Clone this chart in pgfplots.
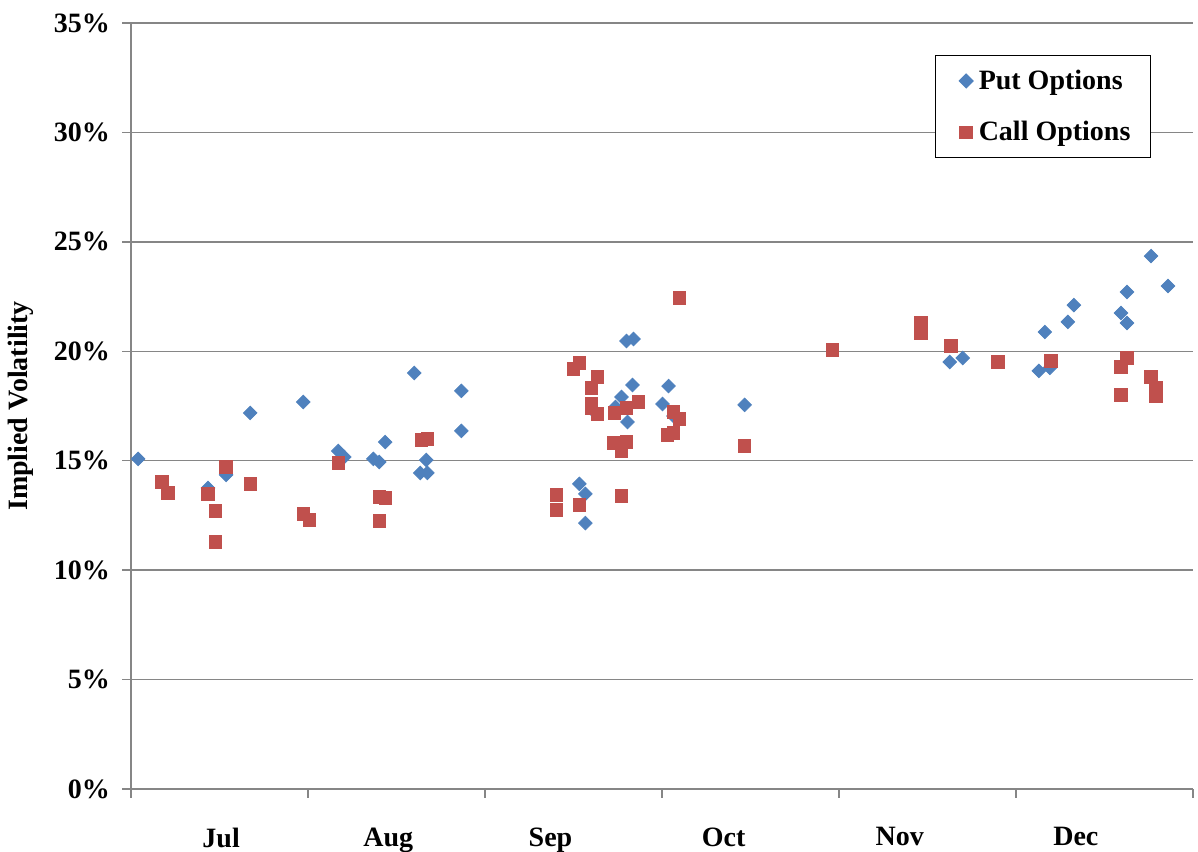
\documentclass[border=0pt]{standalone}
\usepackage{fontspec}
\setmainfont{Liberation Serif}
\usepackage{pgfplots}
\pgfplotsset{compat=1.18}
\definecolor{putblue}{HTML}{4F81BD}
\definecolor{callred}{HTML}{C0504D}
\definecolor{axgray}{HTML}{868686}
\begin{document}
\begin{tikzpicture}
\begin{axis}[
  width=531pt, height=383pt, scale only axis,
  xmin=0, xmax=6, ymin=0, ymax=35,
  axis x line*=bottom, axis y line*=left,
  axis line style={axgray, line width=0.9pt, -},
  every tick/.style={axgray, line width=0.7pt},
  tick align=outside, major tick length=4.5pt,
  ytick={0,5,...,35},
  yticklabels={0\%,5\%,10\%,15\%,20\%,25\%,30\%,35\%},
  yticklabel style={xshift=-2.5pt},
  ymajorgrids, grid style={axgray, line width=0.7pt},
  xtick={0,1,...,6}, xticklabels={},
  extra x ticks={0.509,1.453,2.370,3.348,4.343,5.338},
  extra x tick labels={Jul,Aug,Sep,Oct,Nov,Dec},
  extra x tick style={major tick length=0pt, grid=none,
    tick label style={yshift=-15.8pt}},
  tick label style={font=\fontsize{14}{16}\selectfont\bfseries, black},
  ylabel={Implied Volatility},
  ylabel style={at={(axis description cs:-0.104,0.5)}, anchor=center,
    font=\fontsize{14}{16}\selectfont\bfseries},
  legend style={at={(axis description cs:0.757,0.958)}, anchor=north west,
    draw=black, fill=white, line width=0.6pt,
    font=\fontsize{14}{16}\selectfont\bfseries,
    inner xsep=8pt, inner ysep=5pt, row sep=10.5pt},
  legend cell align=left,
  legend image code/.code={\path (0pt,0pt) (11pt,0pt);
    \draw[#1] plot coordinates {(7pt,0pt)};},
]
\addplot[only marks, mark=square*, mark size=2.4pt,
  mark options={rotate=45, fill=putblue, draw=putblue}]
coordinates {
(0.040,15.08) (0.435,13.75) (0.537,14.35) (0.673,17.18) (0.973,17.68)
(1.171,15.44) (1.205,15.17) (1.369,15.08) (1.402,14.94) (1.436,15.85)
(1.600,19.01) (1.634,14.44) (1.674,14.44) (1.668,15.03) (1.866,18.19)
(1.866,16.36) (2.533,13.94) (2.567,13.48) (2.567,12.15) (2.799,20.47)
(2.839,20.56) (2.833,18.46) (2.771,17.91) (2.737,17.45) (2.607,17.32)
(2.805,16.77) (3.037,18.41) (3.003,17.59) (3.065,17.04) (3.467,17.55)
(4.626,19.51) (4.699,19.69) (5.129,19.10) (5.191,19.24) (5.163,20.88)
(5.293,21.34) (5.327,22.11) (5.593,21.75) (5.627,21.29) (5.627,22.71)
(5.763,24.35) (5.859,22.98)
};
\addlegendentry{Put Options}
\addplot[only marks, mark=square*, mark size=3.1pt,
  mark options={fill=callred, draw=callred}]
coordinates {
(0.175,14.03) (0.209,13.52) (0.435,13.48) (0.475,12.70) (0.475,11.29)
(0.537,14.71) (0.673,13.94) (0.973,12.57) (1.007,12.29) (1.171,14.90)
(1.402,13.34) (1.436,13.30) (1.402,12.25) (1.640,15.95) (1.674,15.99)
(2.533,19.46) (2.500,19.19) (2.635,18.82) (2.601,18.32) (2.601,17.59)
(2.601,17.41) (2.635,17.13) (2.731,17.18) (2.799,17.41) (2.867,17.68)
(2.726,15.81) (2.799,15.85) (2.771,15.44) (3.065,17.23) (3.099,16.91)
(3.031,16.17) (3.065,16.27) (3.099,22.43) (3.467,15.67) (2.403,13.43)
(2.403,12.75) (2.533,12.98) (2.771,13.39) (3.964,20.06) (4.462,21.29)
(4.462,20.84) (4.632,20.24) (4.897,19.51) (5.197,19.56) (5.627,19.69)
(5.593,19.28) (5.593,18.00) (5.763,18.82) (5.791,18.32) (5.791,17.96)
};
\addlegendentry{Call Options}
\coordinate (bbbl) at (axis description cs:-0.1234,-0.0822);
\coordinate (bbtr) at (axis description cs:1.0047,1.0300);
\end{axis}
\pgfresetboundingbox
\path (bbbl) rectangle (bbtr);
\end{tikzpicture}
\end{document}
